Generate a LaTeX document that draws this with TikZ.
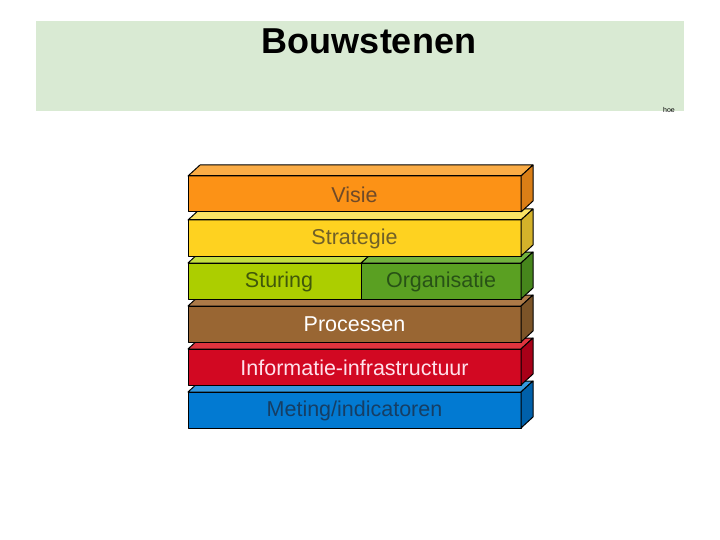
\documentclass[tikz,border=0pt]{standalone}
\usepackage{fontspec}
\setmainfont{Liberation Sans}
\definecolor{band}{RGB}{217,234,211}
\definecolor{visF}{RGB}{252,146,22}\definecolor{visT}{RGB}{250,172,70}\definecolor{visS}{RGB}{218,126,22}
\definecolor{strF}{RGB}{254,210,32}\definecolor{strT}{RGB}{250,226,100}\definecolor{strS}{RGB}{212,178,42}
\definecolor{stuF}{RGB}{172,206,0}\definecolor{stuT}{RGB}{196,222,64}
\definecolor{orgF}{RGB}{90,160,34}\definecolor{orgT}{RGB}{114,178,62}\definecolor{orgS}{RGB}{70,134,28}
\definecolor{proF}{RGB}{153,102,51}\definecolor{proT}{RGB}{172,122,72}\definecolor{proS}{RGB}{124,84,40}
\definecolor{infF}{RGB}{210,8,34}\definecolor{infT}{RGB}{222,52,62}\definecolor{infS}{RGB}{168,0,24}
\definecolor{metF}{RGB}{2,122,210}\definecolor{metT}{RGB}{52,152,222}\definecolor{metS}{RGB}{0,96,170}
\definecolor{visTx}{RGB}{112,74,40}
\definecolor{strTx}{RGB}{112,96,40}
\definecolor{stuTx}{RGB}{64,88,10}
\definecolor{orgTx}{RGB}{40,82,22}
\definecolor{infTx}{RGB}{255,225,235}
\definecolor{metTx}{RGB}{22,62,100}
\tikzset{
  face/.style={draw=black,line width=1pt,line join=round},
  lbl/.style={font=\fontsize{21.5}{25}\selectfont,inner sep=0pt}
}
% front part: x1 x2 y frontcolor topcolor
\newcommand\frontpart[5]{%
  \fill[#4] (#1,#3) rectangle (#2,#3+36);
  \draw[face,fill=#5] (#1,#3) -- (#1+12,#3-11) -- (#2+12,#3-11) -- (#2,#3) -- cycle;
  \draw[face] (#1,#3) rectangle (#2,#3+36);
}
\newcommand\sidepart[3]{%
  \draw[face,fill=#3] (#1,#2) -- (#1+12,#2-11) -- (#1+12,#2+25) -- (#1,#2+36) -- cycle;
}
\begin{document}
\begin{tikzpicture}[x=1pt,y=-1pt]
\useasboundingbox (0,0) rectangle (720,540);
\fill[white] (0,0) rectangle (720,540);
\fill[band] (36,21) rectangle (684,111);
\node[font=\bfseries\fontsize{36}{42}\selectfont,inner sep=0pt] (title) at (369,41) {Bouwstenen};
\node[font=\fontsize{7}{8}\selectfont,inner sep=0pt] (hoe) at (669,110) {hoe};
% Meting
\frontpart{188}{521}{392}{metF}{metT}\sidepart{521}{392}{metS}
\node[lbl,text=metTx] (met) at (354.5,410.5) {Meting/indicatoren};
% Informatie
\frontpart{188}{521}{349}{infF}{infT}\sidepart{521}{349}{infS}
\node[lbl,text=infTx] (inf) at (354.5,367.5) {Informatie-infrastructuur};
% Processen
\frontpart{188}{521}{306}{proF}{proT}\sidepart{521}{306}{proS}
\node[lbl,text=white] (pro) at (354.5,324.5) {Processen};
% Sturing / Organisatie
\frontpart{361}{521}{263}{orgF}{orgT}\sidepart{521}{263}{orgS}
\frontpart{188}{361}{263}{stuF}{stuT}
\node[lbl,text=stuTx] (stu) at (279,281.5) {Sturing};
\node[lbl,text=orgTx] (org) at (441,281.5) {Organisatie};
% Strategie
\frontpart{188}{521}{220}{strF}{strT}\sidepart{521}{220}{strS}
\node[lbl,text=strTx] (str) at (354.5,238.5) {Strategie};
% Visie
\frontpart{188}{521}{176}{visF}{visT}\sidepart{521}{176}{visS}
\node[lbl,text=visTx] (vis) at (354.5,194.5) {Visie};
\end{tikzpicture}
\end{document}
